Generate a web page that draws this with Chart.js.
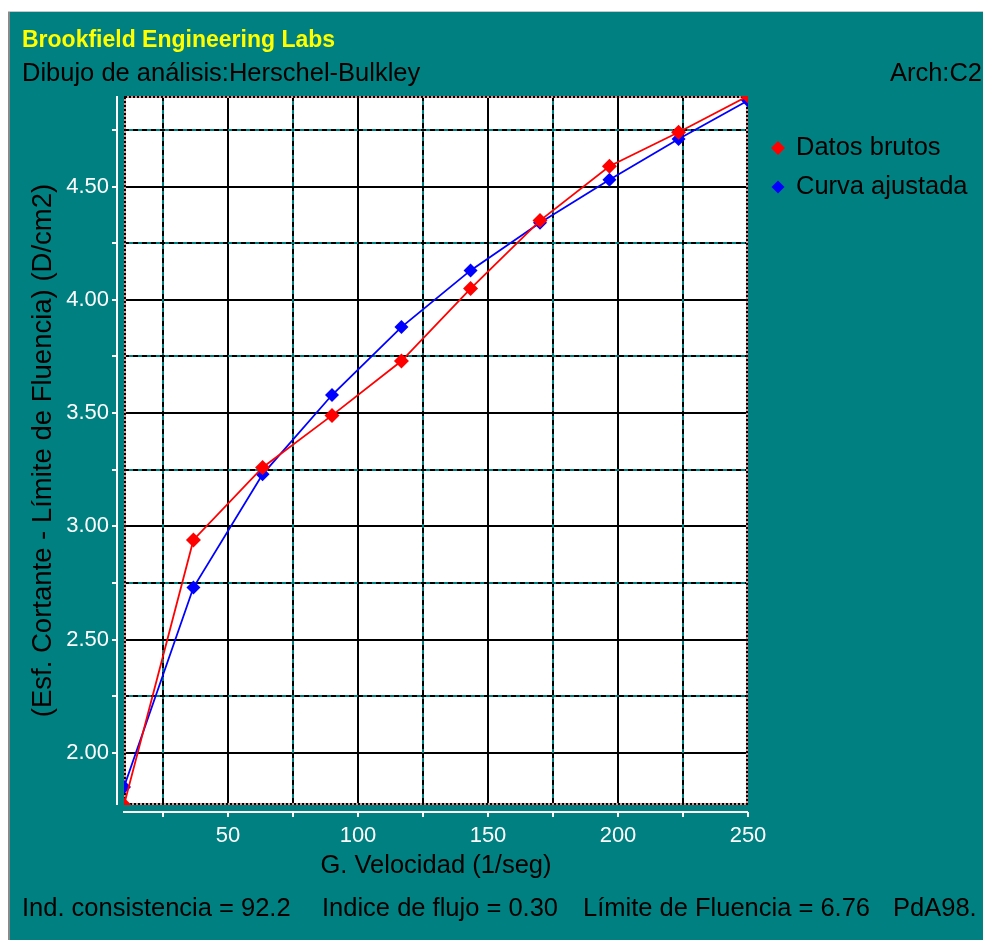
<!DOCTYPE html>
<html>
<head>
<meta charset="utf-8">
<title>Herschel-Bulkley</title>
<script src="https://cdn.jsdelivr.net/npm/chart.js@4.4.1/dist/chart.umd.min.js"></script>
<style>
  html, body { margin: 0; padding: 0; background: #fff; }
  #wrap { width: 983px; height: 940px; position: relative; }
</style>
</head>
<body>
<div id="wrap"><canvas id="myChart" width="983" height="940"></canvas></div>
<script>
'use strict';

// shear rate (1/seg)
let shearRate = [10, 36.7, 63.3, 90, 116.7, 143.3, 170, 196.7, 223.3, 250];
// raw readings and fitted curve (D/cm2)
let rawData = [1.77, 2.94, 3.26, 3.49, 3.73, 4.05, 4.35, 4.59, 4.74, 4.90];
let fitData = [1.85, 2.73, 3.23, 3.58, 3.88, 4.13, 4.34, 4.53, 4.71, 4.88];

// ticks
let xTicks = [50, 100, 150, 200, 250];
let xMinorTicks = [25, 75, 125, 175, 225];
let yTicks = [2.00, 2.50, 3.00, 3.50, 4.00, 4.50];
let yMinorTicks = [2.25, 2.75, 3.25, 3.75, 4.25, 4.75];

let seriesNames = ['Datos brutos', 'Curva ajustada'];
let seriesColors = ['#ff0000', '#0000ff'];

const TEAL = '#008080';
const FONT = '"Liberation Sans", Arial, sans-serif';

function toPoints(xs, ys){
  let pts = [];
  for (let i in xs){
    pts.push({x: xs[i], y: ys[i]});
  }
  return pts;
}

// background, dashed minor grid, dotted frame, white axes, texts
const panelPlugin = {
  id: 'panel',
  beforeDraw(chart){
    let c = chart.ctx;
    let a = chart.chartArea;
    c.save();
    c.fillStyle = '#fff';
    c.fillRect(0, 0, chart.width, chart.height);
    c.fillStyle = TEAL;
    c.fillRect(10, 12, chart.width - 10, chart.height - 12);
    c.fillStyle = '#8a8a8a';
    c.fillRect(8, 12, 2, chart.height - 12);
    c.fillStyle = '#c8c8c8';
    c.fillRect(8, 11, chart.width - 8, 1);
    c.fillStyle = '#fff';
    c.fillRect(a.left, a.top, a.right - a.left, a.bottom - a.top);
    c.restore();
  },
  beforeDatasetsDraw(chart){
    let c = chart.ctx;
    let a = chart.chartArea;
    let xs = chart.scales.x;
    let ys = chart.scales.y;
    c.save();
    c.lineWidth = 2;
    // minor lines: teal under black dashes
    let drawMinor = function(x1, y1, x2, y2){
      c.setLineDash([]);
      c.strokeStyle = TEAL;
      c.beginPath(); c.moveTo(x1, y1); c.lineTo(x2, y2); c.stroke();
      c.setLineDash([5, 4]);
      c.strokeStyle = '#000';
      c.beginPath(); c.moveTo(x1, y1); c.lineTo(x2, y2); c.stroke();
    };
    for (let v of xMinorTicks){
      let px = Math.round(xs.getPixelForValue(v));
      drawMinor(px, a.top, px, a.bottom);
    }
    for (let v of yMinorTicks){
      let py = Math.round(ys.getPixelForValue(v));
      drawMinor(a.left, py, a.right, py);
    }
    // dotted frame
    c.setLineDash([]);
    c.strokeStyle = '#f28c8c';
    c.strokeRect(a.left + 1, a.top + 1, a.right - a.left - 2, a.bottom - a.top - 2);
    c.setLineDash([2, 2]);
    c.strokeStyle = '#000';
    c.strokeRect(a.left + 1, a.top + 1, a.right - a.left - 2, a.bottom - a.top - 2);
    c.restore();
  },
  afterDraw(chart){
    let c = chart.ctx;
    let a = chart.chartArea;
    let xs = chart.scales.x;
    let ys = chart.scales.y;
    c.save();

    // white axis lines with tick marks
    c.strokeStyle = '#fff';
    c.lineWidth = 2;
    let axX = a.left - 7;
    let axY = a.bottom + 7;
    c.beginPath();
    c.moveTo(axX, a.top);
    c.lineTo(axX, a.bottom);
    for (let v of yTicks.concat(yMinorTicks)){
      let py = Math.round(ys.getPixelForValue(v));
      c.moveTo(axX, py);
      c.lineTo(axX - 5, py);
    }
    c.moveTo(a.left - 1, axY);
    c.lineTo(a.right, axY);
    for (let v of xTicks.concat(xMinorTicks)){
      let px = Math.round(xs.getPixelForValue(v));
      c.moveTo(px, axY);
      c.lineTo(px, axY + 5);
    }
    c.stroke();

    // header
    c.textBaseline = 'alphabetic';
    c.textAlign = 'left';
    c.fillStyle = '#ffff00';
    c.font = 'bold 23px ' + FONT;
    c.fillText('Brookfield Engineering Labs', 22, 47);
    c.fillStyle = '#000';
    c.font = '25.5px ' + FONT;
    c.fillText('Dibujo de análisis:Herschel-Bulkley', 22, 81);
    c.textAlign = 'right';
    c.fillText('Arch:C2', 982, 81);

    // legend
    c.textAlign = 'left';
    c.textBaseline = 'middle';
    let legendY = [148, 187];
    for (let i in seriesNames){
      let cy = legendY[i];
      let r = i == 0 ? 7 : 6.5;
      c.fillStyle = seriesColors[i];
      c.beginPath();
      c.moveTo(778, cy - r);
      c.lineTo(778 + r, cy);
      c.lineTo(778, cy + r);
      c.lineTo(778 - r, cy);
      c.closePath();
      c.fill();
      c.fillStyle = '#000';
      c.fillText(seriesNames[i], 796, cy);
    }

    // footer
    c.textBaseline = 'alphabetic';
    c.fillText('Ind. consistencia = 92.2', 22, 916);
    c.fillText('Indice de flujo = 0.30', 322, 916);
    c.fillText('Límite de Fluencia = 6.76', 583, 916);
    c.fillText('PdA98.', 893, 916);
    c.restore();
  }
};

const ctx = document.getElementById('myChart');

let chartObj = {
  type: 'line',
  data: {
    datasets: [{
      label: seriesNames[0],
      data: toPoints(shearRate, rawData),
      borderColor: seriesColors[0],
      backgroundColor: seriesColors[0],
      borderWidth: 1.8,
      pointStyle: 'rectRot',
      pointRadius: 7.5,
      pointBorderWidth: 0,
      tension: 0,
      clip: 0
    },
    {
      label: seriesNames[1],
      data: toPoints(shearRate, fitData),
      borderColor: seriesColors[1],
      backgroundColor: seriesColors[1],
      borderWidth: 1.8,
      pointStyle: 'rectRot',
      pointRadius: 7,
      pointBorderWidth: 0,
      tension: 0,
      clip: 0
    }
    ]
  },
  options: {
    responsive: false,
    animation: false,
    devicePixelRatio: 1,
    layout: {
      padding: {top: 96, right: 235, bottom: 0, left: 0}
    },
    plugins: {
      legend: {display: false},
      tooltip: {enabled: false},
      title: {display: false}
    },
    scales: {
      x: {
        type: 'linear',
        bounds: 'data',
        afterBuildTicks: (scale) => {
          scale.ticks = xTicks.map(v => ({value: v}));
        },
        afterFit: (scale) => {
          scale.height = 135;
        },
        grid: {
          color: (c) => (c.tick && c.tick.value === 250 ? 'rgba(0,0,0,0)' : '#000'),
          lineWidth: 2,
          drawTicks: false
        },
        border: {display: false},
        ticks: {
          color: '#fff',
          padding: 18,
          maxRotation: 0,
          font: {family: FONT, size: 22}
        },
        title: {
          display: true,
          text: 'G. Velocidad (1/seg)',
          color: '#000',
          padding: {top: 0, bottom: 59},
          font: {family: FONT, size: 25.5}
        }
      },
      y: {
        type: 'linear',
        bounds: 'data',
        afterBuildTicks: (scale) => {
          scale.ticks = yTicks.map(v => ({value: v}));
        },
        afterFit: (scale) => {
          scale.width = 124;
        },
        grid: {
          color: '#000',
          lineWidth: 2,
          drawTicks: false
        },
        border: {display: false},
        ticks: {
          color: '#fff',
          padding: 15,
          font: {family: FONT, size: 22},
          callback: (v) => Number(v).toFixed(2)
        },
        title: {
          display: true,
          text: '(Esf. Cortante - Límite de Fluencia) (D/cm2)',
          color: '#000',
          padding: {top: 27, bottom: 0},
          font: {family: FONT, size: 27.5}
        }
      }
    }
  },
  plugins: [panelPlugin]
};

new Chart(ctx, chartObj);
</script>
</body>
</html>
